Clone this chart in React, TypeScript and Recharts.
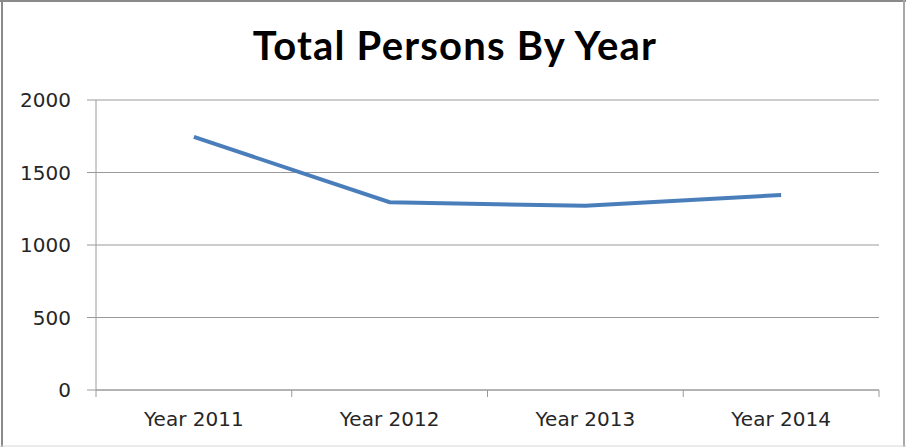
import { CartesianGrid, Line, LineChart, XAxis, YAxis } from 'recharts';

const years = ['Year 2011', 'Year 2012', 'Year 2013', 'Year 2014'];
const persons = [1745, 1295, 1270, 1345];
const yTicks = [0, 500, 1000, 1500, 2000];

const data = years.map((year, i) => ({ year, persons: persons[i] }));

const axisFont = { fontFamily: 'DejaVu Sans', fontSize: 20, fill: '#262626' };
const gridColor = '#9a9a9a';
const X_TICK = 7;
const X_GAP = 15;

// Excel puts the category tick marks between the categories, not under them
const YearTick = (props: any) => {
  const { x, y, payload, index, visibleTicksCount, width } = props;
  const half = width / visibleTicksCount / 2;
  const axisY = y - X_TICK - X_GAP;
  return (
    <g>
      <line x1={x - half} y1={axisY} x2={x - half} y2={axisY + X_TICK} stroke={gridColor} />
      {index === visibleTicksCount - 1 && (
        <line x1={x + half} y1={axisY} x2={x + half} y2={axisY + X_TICK} stroke={gridColor} />
      )}
      <text x={x} y={y} dy="0.71em" textAnchor="middle" {...axisFont}>
        {payload.value}
      </text>
    </g>
  );
};

const App = () => (
  <div style={{ position: 'absolute', left: 0, top: 0, width: 906, height: 447, background: '#fff' }}>
    <LineChart
      width={906}
      height={447}
      data={data}
      margin={{ top: 100, right: 27, left: 0, bottom: 0 }}
    >
      <CartesianGrid vertical={false} stroke={gridColor} />
      <XAxis
        dataKey="year"
        scale="band"
        tickLine={false}
        tickSize={X_TICK}
        tickMargin={X_GAP}
        axisLine={{ stroke: gridColor }}
        tick={<YearTick />}
        height={57}
      />
      <YAxis
        domain={[0, 2000]}
        ticks={yTicks}
        width={96}
        tickSize={9}
        tickMargin={16}
        tickLine={{ stroke: gridColor }}
        axisLine={{ stroke: gridColor }}
        tick={axisFont}
      />
      <Line
        dataKey="persons"
        stroke="#4a7ebb"
        strokeWidth={4}
        dot={false}
        isAnimationActive={false}
      />
    </LineChart>
    <svg width={906} height={447} style={{ position: 'absolute', left: 0, top: 0, pointerEvents: 'none' }}>
      <text
        x={455}
        y={60}
        textAnchor="middle"
        fontFamily="Lato"
        fontWeight="bold"
        fontSize={40}
        letterSpacing={1.2}
        fill="#000"
      >
        Total Persons By Year
      </text>
      <line x1={0} y1={1} x2={906} y2={1} stroke="#8a8a8a" strokeWidth={2} />
      <line x1={2} y1={0} x2={2} y2={447} stroke="#8a8a8a" strokeWidth={2} />
      <line x1={904} y1={0} x2={904} y2={447} stroke="#a8a8a8" strokeWidth={2} />
      <line x1={0} y1={446} x2={906} y2={446} stroke="#d8d8d8" strokeWidth={1} />
    </svg>
  </div>
);

export default App;
